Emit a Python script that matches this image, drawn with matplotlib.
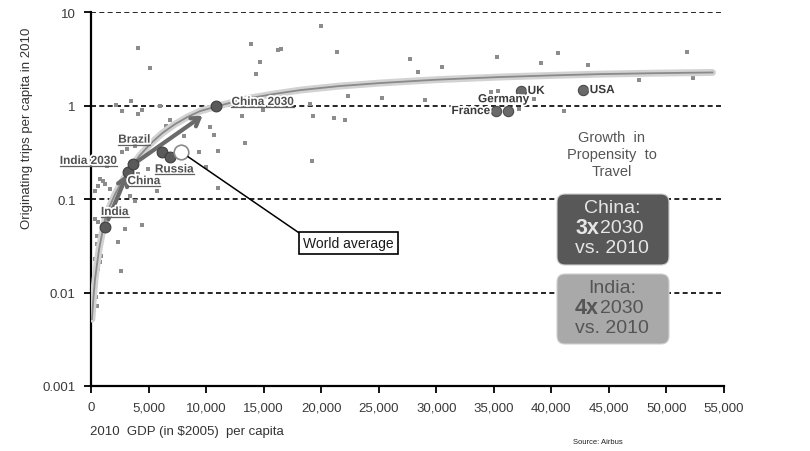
import matplotlib
matplotlib.use("Agg")
import matplotlib.pyplot as plt
from matplotlib.patches import FancyBboxPatch
from matplotlib.lines import Line2D
import matplotlib.patheffects as pe
from matplotlib.ticker import FixedLocator, FixedFormatter, NullLocator

plt.rcParams['font.family'] = ['Liberation Sans', 'DejaVu Sans']

# ---- data -------------------------------------------------------------
# individual countries: GDP per capita (2005 $) and trips per capita
country_gdp = [4090, 5135, 3480, 2175, 2700, 4440, 4090, 6005, 13925, 16275,
               14710, 14360, 13140, 10355, 6875, 6527, 20015, 21410, 27675, 28370,
               30460, 35245, 39075, 40555, 24975, 22365, 25325, 28980, 19320, 21150,
               22105, 19060, 34725, 35335, 38465, 37160, 43165, 47605, 51785, 52305,
               41075, 16535, 14970, 10705, 13400, 8095, 9400, 11055, 19235, 10010,
               11055, 350, 785, 1220, 1390, 1825, 2700, 3135, 3830, 4525,
               4960, 4090, 5745, 3830, 3395, 2960, 4440, 2350, 2610, 350,
               610, 520, 785, 350, 785, 350, 175, 175, 610, 1045,
               1655, 520, 520, 700, 435, 610, 870, 260, 435, 957, 1130]
country_trips = [4.15, 2.53, 1.12, 1.02, 0.877, 0.897, 0.814, 0.99, 4.57, 3.94,
                 2.94, 2.18, 0.775, 0.590, 0.702, 0.605, 7.13, 3.76, 3.16, 2.29,
                 2.59, 3.32, 2.86, 3.66, 1.75, 1.27, 1.21, 1.15, 0.775, 0.738,
                 0.702, 1.04, 1.40, 1.44, 1.18, 0.92, 2.73, 1.88, 3.76, 1.98,
                 0.877, 4.05, 0.90, 0.485, 0.398, 0.473, 0.319, 0.327, 0.255, 0.220,
                 0.132, 0.122, 0.164, 0.145, 0.226, 0.268, 0.319, 0.344, 0.370, 0.289,
                 0.209, 0.185, 0.122, 0.095, 0.108, 0.048, 0.053, 0.035, 0.017, 0.061,
                 0.057, 0.040, 0.027, 0.0228, 0.0211, 0.0139, 0.0071, 0.0062, 0.138, 0.156,
                 0.128, 0.0072, 0.033, 0.029, 0.020, 0.0178, 0.0245, 0.0109, 0.0089, 0.037, 0.0454]

# fitted propensity-to-travel curve
curve_gdp = [80, 200, 350, 520, 700, 950, 1220, 1650, 2090, 2700, 3390, 4200,
             5130, 6200, 7310, 8400, 9490, 10880, 12300, 13840, 15800, 18190,
             21500, 25150, 30000, 35590, 40000, 44290, 49000, 54000]
curve_trips = [0.0052, 0.0085, 0.0139, 0.020, 0.029, 0.042, 0.061, 0.085, 0.113,
               0.155, 0.21, 0.29, 0.388, 0.51, 0.636, 0.76, 0.877, 0.98, 1.09,
               1.21, 1.33, 1.47, 1.62, 1.75, 1.90, 2.03, 2.11, 2.18, 2.23, 2.27]

# highlighted markets
hl_names = ["India", "India 2030", "China", "China 2030", "Brazil", "Russia"]
hl_gdp = [1220, 3220, 3655, 10880, 6180, 6875]
hl_trips = [0.050, 0.195, 0.235, 0.99, 0.318, 0.283]
hl_offsets = [(7, 11), (-8, 8), (-4, -12), (11, 3), (-20, 9), (3, -9)]
hl_align = ["center", "right", "left", "left", "center", "center"]

mature_names = ["UK", "USA", "France", "Germany"]
mature_gdp = [37335, 42730, 35160, 36200]
mature_trips = [1.44, 1.47, 0.877, 0.877]
mature_offsets = [(5, 0), (5, 0), (-4, 0), (-3, 8.5)]
mature_align = ["left", "left", "right", "center"]

world_gdp = 7830
world_trips = 0.32

x_ticks = list(range(0, 55001, 5000))
x_tick_labels = [f"{v:,}" for v in x_ticks]
y_ticks = [0.001, 0.01, 0.1, 1, 10]
y_tick_labels = ["0.001", "0.01", "0.1", "1", "10"]

# ---- figure -----------------------------------------------------------
W, H = 810, 452
fig = plt.figure(figsize=(W / 100, H / 100), dpi=100)
fig.patch.set_facecolor("white")
ax = fig.add_axes([91 / W, 1 - 387 / H, (724 - 91) / W, (387 - 13.3) / H])
ax.set_xscale("linear")
ax.set_yscale("log")
ax.set_xlim(0, 55000)
ax.set_ylim(0.001, 10)

for s in ("top", "right"):
    ax.spines[s].set_visible(False)
for s in ("left", "bottom"):
    ax.spines[s].set_linewidth(1.6)
    ax.spines[s].set_color("black")

ax.xaxis.set_major_locator(FixedLocator(x_ticks))
ax.xaxis.set_major_formatter(FixedFormatter(x_tick_labels))
ax.yaxis.set_major_locator(FixedLocator(y_ticks))
ax.yaxis.set_major_formatter(FixedFormatter(y_tick_labels))
ax.yaxis.set_minor_locator(NullLocator())
ax.tick_params(axis="x", direction="out", length=5, width=1.3, pad=6,
               labelsize=9.5, labelcolor="#3a3a3a")
ax.tick_params(axis="y", direction="out", length=5, width=1.3, pad=6,
               labelsize=9.5, labelcolor="#3a3a3a")

for yv in [10, 1, 0.1, 0.01]:
    ax.axhline(yv, color="black", lw=1.2, ls=(0, (3, 2)), zorder=1)

# scatter of all countries
ax.scatter(country_gdp, country_trips, marker="s", s=5, color="#8c8c8c",
           linewidths=0, zorder=2)

# curve: soft grey band with a darker core
ax.plot(curve_gdp, curve_trips, color="#d2d2d2", lw=5, solid_capstyle="round", zorder=3)
ax.plot(curve_gdp, curve_trips, color="#8a8a8a", lw=1.3, zorder=3)

# growth arrows
arrow_kw = dict(arrowstyle="->,head_length=0.55,head_width=0.35",
                color="#6a6a6a", lw=3)
ax.annotate("", xy=(hl_gdp[1], hl_trips[1]), xytext=(hl_gdp[0], hl_trips[0]),
            arrowprops=dict(shrinkA=6, shrinkB=2, **arrow_kw), zorder=4)
ax.annotate("", xy=(hl_gdp[3], hl_trips[3]), xytext=(hl_gdp[2], hl_trips[2]),
            arrowprops=dict(shrinkA=4, shrinkB=12, **arrow_kw), zorder=4)

# highlighted country markers
ax.scatter(hl_gdp, hl_trips, s=60, color="#5a5a5a", edgecolors="#3f3f3f",
           linewidths=0.8, zorder=5)
ax.scatter(mature_gdp, mature_trips, s=55, color="#6a6a6a", edgecolors="#4a4a4a",
           linewidths=0.8, zorder=5)
ax.scatter([world_gdp], [world_trips], s=110, color="white", edgecolors="#8a8a8a",
           linewidths=1.2, zorder=5)

glow = [pe.withStroke(linewidth=2.5, foreground="white")]
underlined = []
for name, gx, ty, off, ha in zip(hl_names, hl_gdp, hl_trips, hl_offsets, hl_align):
    t = ax.annotate(name, (gx, ty), xytext=off, textcoords="offset points",
                    ha=ha, va="center", fontsize=8.5, color="#505050",
                    fontweight="bold", path_effects=glow, zorder=6)
    underlined.append(t)

for name, gx, ty, off, ha in zip(mature_names, mature_gdp, mature_trips,
                                 mature_offsets, mature_align):
    ax.annotate(name, (gx, ty), xytext=off, textcoords="offset points",
                ha=ha, va="center", fontsize=8.5, color="#3a3a3a",
                fontweight="bold", path_effects=glow, zorder=6)

# world average callout
ax.annotate("World average", (world_gdp, world_trips), xytext=(22400, 0.034),
            textcoords="data", ha="center", va="center", fontsize=10,
            color="#1a1a1a",
            bbox=dict(boxstyle="square,pad=0.3", fc="white", ec="black", lw=1.2),
            arrowprops=dict(arrowstyle="-", color="black", lw=1.1,
                            relpos=(0, 1), shrinkA=0, shrinkB=6),
            zorder=7)

# ---- overlay in pixel units for the side panel --------------------------
ov = fig.add_axes([0, 0, 1, 1], facecolor="none")
ov.set_xlim(0, W)
ov.set_ylim(H, 0)
ov.axis("off")

ov.text(612, 155, "Growth  in\nPropensity  to\nTravel", ha="center", va="center",
        fontsize=10.5, color="#555555", linespacing=1.25)

panels = [
    dict(y0=195, y1=266, fc="#585858", tc="#e6e6e6", head="China:", mult="3x"),
    dict(y0=275, y1=345, fc="#a9a9a9", tc="#555555", head="India:", mult="4x"),
]
for p in panels:
    box = FancyBboxPatch((557, p["y0"]), 112, p["y1"] - p["y0"],
                         boxstyle="round,pad=0,rounding_size=8",
                         fc=p["fc"], ec="#d0d0d0", lw=0.8)
    ov.add_patch(box)
    ov.text(612, p["y0"] + 14, p["head"], ha="center", va="center",
            fontsize=14, color=p["tc"])
    ov.text(599, p["y0"] + 34, p["mult"], ha="right", va="center",
            fontsize=15.5, fontweight="bold", color=p["tc"])
    ov.text(600, p["y0"] + 34, "2030", ha="left", va="center",
            fontsize=14, color=p["tc"])
    ov.text(612, p["y0"] + 54, "vs. 2010", ha="center", va="center",
            fontsize=14, color=p["tc"])

# axis titles and source
ov.text(27, 128, "Originating trips per capita in 2010", rotation=90,
        ha="center", va="center", fontsize=9.5, color="#333333")
ov.text(90, 432, "2010  GDP (in \\$2005)  per capita", ha="left", va="center",
        fontsize=9.5, color="#333333")
ov.text(598, 443, "Source: Airbus", ha="center", va="center", fontsize=5.5,
        color="#222222")

# underline the highlighted country labels
fig.canvas.draw()
r = fig.canvas.get_renderer()
for t in underlined:
    bb = t.get_window_extent(r)
    yline = (bb.y0 + 1.0) / (H)
    fig.add_artist(Line2D([bb.x0 / W, bb.x1 / W], [yline, yline],
                          transform=fig.transFigure, color="#606060", lw=0.9))

fig.savefig("out.png", dpi=100, facecolor="white")
